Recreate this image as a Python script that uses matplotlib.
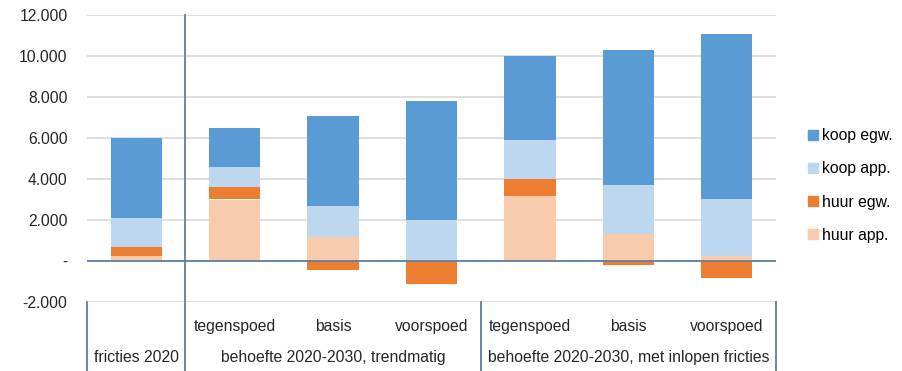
## stacked bars: woningbehoefte per scenario, in Excel-style layout
import numpy as np
import matplotlib
matplotlib.use("Agg")
import matplotlib.pyplot as plt
from matplotlib.ticker import FuncFormatter
from matplotlib.patches import Patch
import matplotlib.transforms as mtransforms

plt.rcParams['font.family'] = ['Liberation Sans', 'DejaVu Sans']

##data
sub_labels = ['', 'tegenspoed', 'basis', 'voorspoed', 'tegenspoed', 'basis', 'voorspoed']
groups = ['fricties 2020', 'behoefte 2020-2030, trendmatig', 'behoefte 2020-2030, met inlopen fricties']
group_sizes = [1, 3, 3]

huur_app = [250, 3000, 1150, 50, 3150, 1300, 250]
huur_egw = [450, 600, -450, -1100, 850, -180, -850]
koop_app = [1400, 1000, 1550, 1950, 1900, 2400, 2750]
koop_egw = [3900, 1900, 4350, 5800, 4100, 6600, 8050]

series = [('huur app.', huur_app, '#F8CBAD'),
          ('huur egw.', huur_egw, '#ED7D31'),
          ('koop app.', koop_app, '#BDD7EE'),
          ('koop egw.', koop_egw, '#5B9BD5')]

line_col = '#5E7E9E'
txt_col = '#262626'
fs = 11.3

fig = plt.figure(figsize=(9.03, 3.71), dpi=100)
ax = fig.add_axes([87/903, 1-302/371, (776-87)/903, (302-15)/371])

x = np.arange(len(sub_labels))
pos = np.zeros(len(x))
neg = np.zeros(len(x))
for name, vals, col in series:
    vals = np.array(vals, dtype=float)
    bottom = np.where(vals >= 0, pos, neg)
    ax.bar(x, vals, 0.52, bottom=bottom, color=col, edgecolor='none', zorder=3)
    pos = pos + np.where(vals >= 0, vals, 0)
    neg = neg + np.where(vals < 0, vals, 0)

ax.set_xlim(-0.5, len(x)-0.5)
ax.set_ylim(-2000, 12000)
ax.set_yticks(np.arange(-2000, 12001, 2000))
def fmt(v, p):
    if v == 0:
        return '-'
    return '{:,.0f}'.format(v).replace(',', '.')
ax.yaxis.set_major_formatter(FuncFormatter(fmt))
ax.grid(axis='y', color='#D9D9D9', lw=1.2, zorder=0)
ax.axhline(0, color=line_col, lw=1.3, zorder=4)
for s in ax.spines.values():
    s.set_visible(False)
ax.tick_params(axis='y', length=0, labelsize=fs, pad=14, labelcolor=txt_col)
ax.tick_params(axis='x', length=0, labelsize=fs, pad=12, labelcolor=txt_col)
ax.set_xticks(x)
ax.set_xticklabels(sub_labels)

##category table under the plot
trans = mtransforms.blended_transform_factory(ax.transData, ax.transAxes)
edges = np.concatenate([[0], np.cumsum(group_sizes)]) - 0.5
for i, e in enumerate(edges):
    top = 1.0 if i == 1 else 0.0
    ax.plot([e, e], [top, -0.24], color=line_col, lw=1.3, transform=trans, clip_on=False)
for g, a, b in zip(groups, edges[:-1], edges[1:]):
    ax.text((a+b)/2, -0.195, g, transform=trans, ha='center', va='center', fontsize=fs, color=txt_col)

handles = [Patch(color=c, label=n) for n, v, c in series[::-1]]
fig.legend(handles=handles, loc='center left', bbox_to_anchor=(0.879, 0.5), frameon=False,
           fontsize=fs, handlelength=0.65, handleheight=0.65, handletextpad=0.25, labelspacing=1.15)

fig.savefig('out.png', dpi=100)
